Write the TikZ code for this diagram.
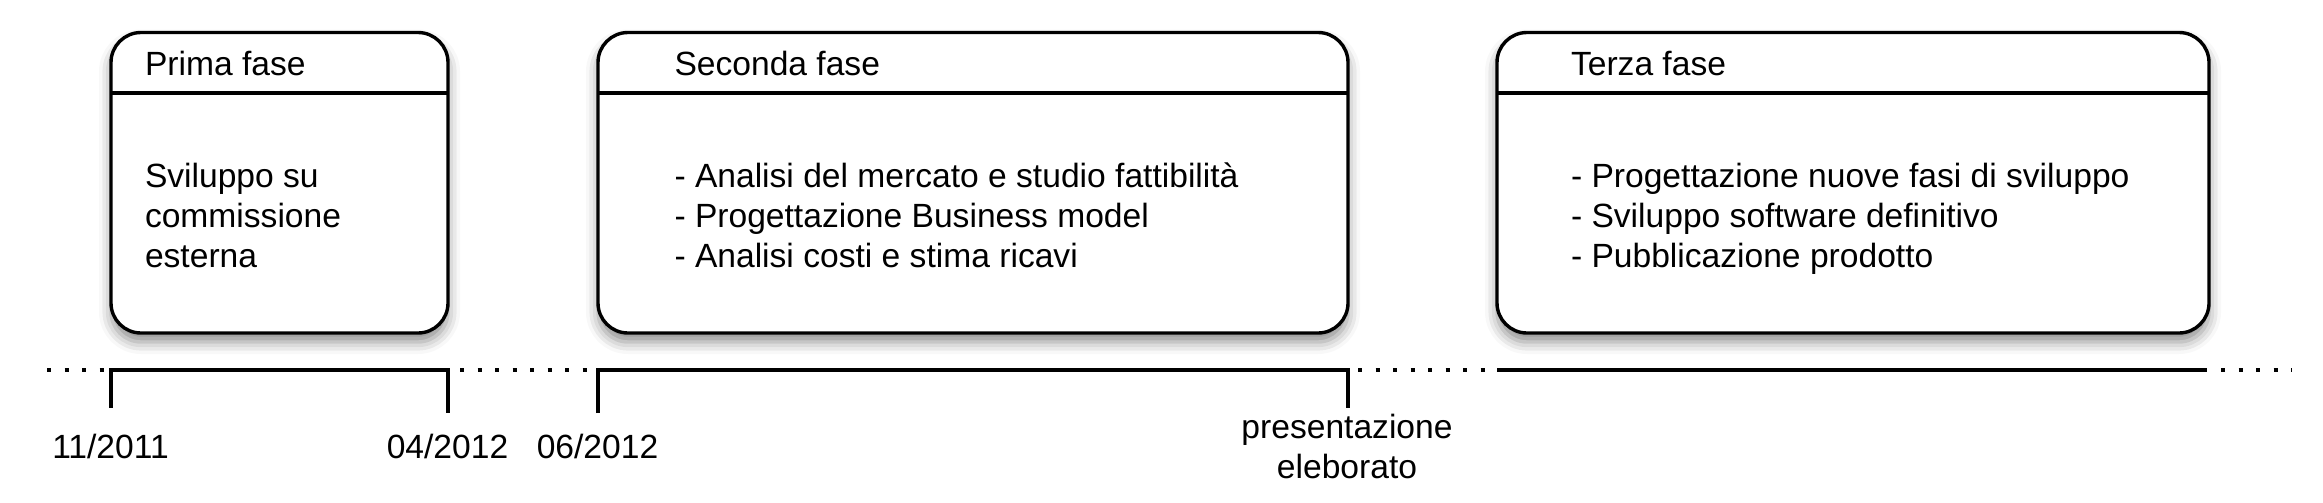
\documentclass[tikz,border=0pt]{standalone}
\usepackage{fontspec}
\setmainfont{Liberation Sans}
\usetikzlibrary{shadows.blur}
\begin{document}
\begin{tikzpicture}[x=0.5pt,y=-0.5pt,
  phase/.style={draw=black, line width=1.7pt, fill=white, rounded corners=15pt, inner sep=0pt, outer sep=0pt,
    blur shadow={shadow xshift=0pt, shadow yshift=-4.5pt, shadow blur radius=6pt, shadow opacity=45}},
  headline/.style={line width=1.7pt},
  txt/.style={inner sep=0pt, outer sep=0pt, anchor=base west, font=\fontsize{16.8pt}{20pt}\selectfont},
  datelbl/.style={inner sep=0pt, outer sep=0pt, anchor=base, font=\fontsize{16.8pt}{20pt}\selectfont},
  tline/.style={line width=2pt, line join=miter, line cap=butt},
  dots/.style={line width=2pt, line cap=butt, dash pattern=on 2pt off 6.75pt}]
\useasboundingbox (0,0) rectangle (2323,503);

% boxes
\node[phase, minimum width=168.5pt, minimum height=150.25pt] (b1) at (279.5,182.75) {};
\node[phase, minimum width=375pt, minimum height=150.25pt] (b2) at (973,182.75) {};
\node[phase, minimum width=356pt, minimum height=150.25pt] (b3) at (1853,182.75) {};

\coordinate (h1a) at (111,93); \coordinate (h1b) at (448,93);
\coordinate (h2a) at (598,93); \coordinate (h2b) at (1348,93);
\coordinate (h3a) at (1497,93); \coordinate (h3b) at (2209,93);
\draw[headline] (h1a) -- (h1b);
\draw[headline] (h2a) -- (h2b);
\draw[headline] (h3a) -- (h3b);

% titles
\node[txt] (t1) at (145,75) {Prima fase};
\node[txt] (t2) at (674.5,75) {Seconda fase};
\node[txt] (t3) at (1571,75) {Terza fase};

% bodies
\node[txt] (c1) at (145,187) {\begin{tabular}[t]{@{}l@{}}Sviluppo su\\commissione\\esterna\end{tabular}};
\node[txt] (c2) at (674.5,187) {\begin{tabular}[t]{@{}l@{}}- Analisi del mercato e studio fattibilità\\- Progettazione Business model\\- Analisi costi e stima ricavi\end{tabular}};
\node[txt] (c3) at (1571,187) {\begin{tabular}[t]{@{}l@{}}- Progettazione nuove fasi di sviluppo\\- Sviluppo software definitivo\\- Pubblicazione prodotto\end{tabular}};

% timeline
\coordinate (d0) at (47,370);
\coordinate (p1) at (111,370); \coordinate (p1d) at (111,407.5);
\coordinate (p2) at (448,370); \coordinate (p2d) at (448,413);
\coordinate (d1a) at (460,370); \coordinate (d1b) at (588,370);
\coordinate (p3) at (598,370); \coordinate (p3d) at (598,413);
\coordinate (p4) at (1348,370); \coordinate (p4d) at (1348,408);
\coordinate (d2a) at (1358,370); \coordinate (d2b) at (1492,370);
\coordinate (p5) at (1497,370); \coordinate (p6) at (2207,370);
\coordinate (d3a) at (2221,370); \coordinate (d3b) at (2292,370);

\draw[dots] (d0) -- (p1);
\draw[tline] (p1d) -- (p1) -- (p2) -- (p2d);
\draw[dots] (d1a) -- (d1b);
\draw[tline] (p3d) -- (p3) -- (p4) -- (p4d);
\draw[dots] (d2a) -- (d2b);
\draw[tline] (p5) -- (p6);
\draw[dots] (d3a) -- (d3b);

% labels
\node[datelbl] (l1) at (110.5,458) {11/2011};
\node[datelbl] (l2) at (447.5,458) {04/2012};
\node[datelbl] (l3) at (597.5,458) {06/2012};
\node[datelbl] (l4) at (1347,438) {\begin{tabular}[t]{@{}c@{}}presentazione\\eleborato\end{tabular}};
\end{tikzpicture}
\end{document}
